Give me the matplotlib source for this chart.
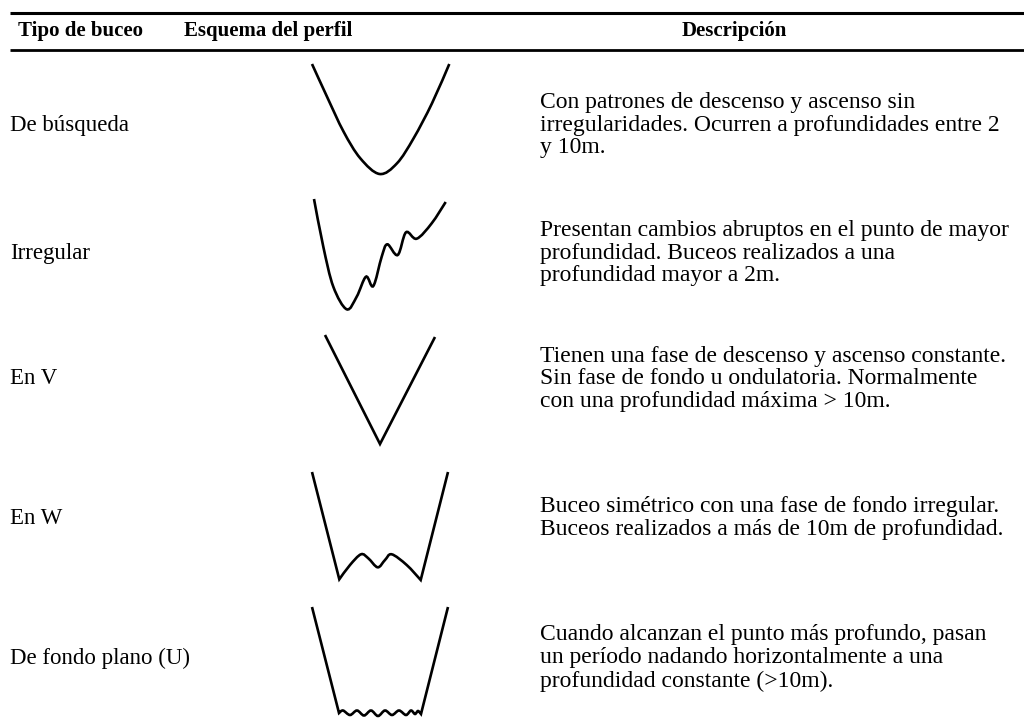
import numpy as np
import matplotlib.pyplot as plt
from matplotlib.path import Path
from matplotlib.patches import PathPatch

plt.rcParams['font.family'] = ['Liberation Serif', 'DejaVu Serif']

headers = ['Tipo de buceo', 'Esquema del perfil', 'Descripción']
header_x = [80, 268, 734]

tipos = ['De búsqueda', 'Irregular', 'En V', 'En W', 'De fondo plano (U)']
row_y = [125, 253, 379, 518, 658]

descripciones = [
    'Con patrones de descenso y ascenso sin\nirregularidades. Ocurren a profundidades entre 2\ny 10m.',
    'Presentan cambios abruptos en el punto de mayor\nprofundidad. Buceos realizados a una\nprofundidad mayor a 2m.',
    'Tienen una fase de descenso y ascenso constante.\nSin fase de fondo u ondulatoria. Normalmente\ncon una profundidad máxima > 10m.',
    'Buceo simétrico con una fase de fondo irregular.\nBuceos realizados a más de 10m de profundidad.',
    'Cuando alcanzan el punto más profundo, pasan\nun período nadando horizontalmente a una\nprofundidad constante (>10m).',
]

# esquemas: (tiempo, profundidad) relativos al origen de cada celda
# cada perfil es una lista de tramos: ('line' | 'smooth', puntos)
perfiles = [
    [('smooth', [(0, 0), (15, 32.7), (31.6, 67.7), (48.3, 94.3), (67.6, 110),
                 (85, 99.3), (101.6, 74.3), (120, 39.3), (137.3, 0)])],
    [('smooth', [(2, 0), (11.3, 47.7), (21.3, 87.7), (34.7, 110.3), (44.7, 97.7),
                 (54, 77.7), (61.3, 87), (69.7, 57.7), (75.3, 45.3), (85.7, 56),
                 (94, 33.3), (104.7, 39.7), (119.7, 24.3), (133.7, 3)])],
    [('line', [(13, 0), (68, 109), (123, 2)])],
    [('line', [(0, 0), (27.3, 107.3)]),
     ('smooth', [(27.3, 107.3), (38, 93), (49, 82.3), (56.3, 86.3), (65.7, 95.3),
                 (73, 88), (79.7, 82.3), (94.7, 93), (108.7, 108)]),
     ('line', [(108.7, 108), (136, 0)])],
    [('line', [(0, 0), (27, 106)]),
     ('smooth', [(27, 106), (31, 103.5), (38, 108), (45, 103.5), (52, 108.5),
                 (59, 103.5), (66, 109), (73, 103.5), (80, 108), (87, 103.5),
                 (94, 108), (99, 103.5), (103, 107), (106, 104), (109, 107)]),
     ('line', [(109, 107), (136, 0)])],
]
origenes = [(312, 64), (312, 199), (312, 335), (312, 472), (312, 607)]


def build_path(tramos, ox, oy):
    verts, codes = [], []
    for kind, pts in tramos:
        p = np.array(pts, dtype=float) + [ox, oy]
        if not verts:
            verts.append(p[0])
            codes.append(Path.MOVETO)
        if kind == 'line':
            for q in p[1:]:
                verts.append(q)
                codes.append(Path.LINETO)
        else:
            ext = np.vstack([p[0], p, p[-1]])
            for i in range(1, len(ext) - 2):
                c1 = ext[i] + (ext[i + 1] - ext[i - 1]) / 6
                c2 = ext[i + 1] - (ext[i + 2] - ext[i]) / 6
                verts += [c1, c2, ext[i + 1]]
                codes += [Path.CURVE4] * 3
    return Path(verts, codes)


fig = plt.figure(figsize=(10.24, 7.26), dpi=100)
ax = fig.add_axes([0, 0, 1, 1])
ax.set_xlim(0, 1024)
ax.set_ylim(726, 0)
ax.axis('off')

ax.plot([10, 1024], [13, 13], color='black', lw=2.2, solid_capstyle='butt')
ax.plot([10, 1024], [50, 50], color='black', lw=2.0, solid_capstyle='butt')

for h, x in zip(headers, header_x):
    ax.text(x, 31, h, ha='center', va='center', fontsize=15, fontweight='bold')

for t, d, y in zip(tipos, descripciones, row_y):
    ax.text(10, y, t, ha='left', va='center', fontsize=16.5)
    ax.text(540, y, d, ha='left', va='center', fontsize=17, linespacing=1.12)

for tramos, (ox, oy) in zip(perfiles, origenes):
    ax.add_patch(PathPatch(build_path(tramos, ox, oy), fill=False,
                           edgecolor='black', lw=1.9, capstyle='butt'))

fig.savefig('out.png', dpi=100)
